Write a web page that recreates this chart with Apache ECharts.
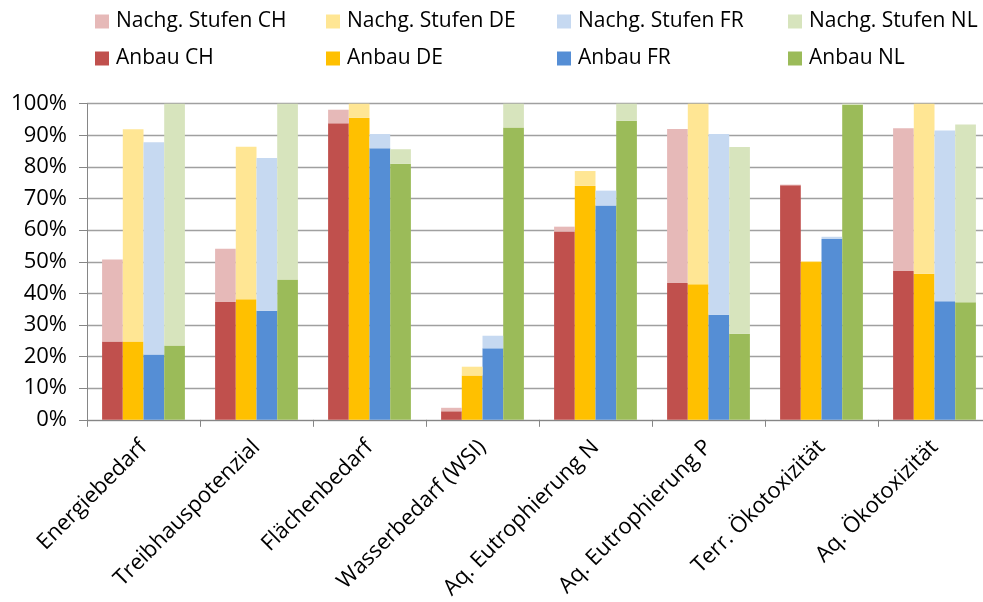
<!DOCTYPE html>
<html>
<head>
<meta charset="utf-8">
<script src="https://cdn.jsdelivr.net/npm/echarts@6/dist/echarts.min.js"></script>
<style>
  html, body { margin: 0; padding: 0; background: #fff; overflow: hidden; }
  /* a little wider than the window: the original plot is cut off at the right */
  #main { width: 991px; height: 602px; }
</style>
</head>
<body>
<div id="main"></div>
<script>
// categories (x axis)
var categories = ['Energiebedarf', 'Treibhauspotenzial', 'Flächenbedarf', 'Wasserbedarf (WSI)',
  'Aq. Eutrophierung N', 'Aq. Eutrophierung P', 'Terr. Ökotoxizität', 'Aq. Ökotoxizität']

// Anbau (lower part of each bar), in %
var anbauCH = [24.8, 37.3, 93.8, 2.7, 59.6, 43.3, 74.2, 47.1]
var anbauDE = [24.8, 38.1, 95.5, 14.0, 74.0, 42.9, 49.9, 46.2]
var anbauFR = [20.7, 34.5, 85.9, 22.6, 67.8, 33.2, 57.2, 37.5]
var anbauNL = [23.5, 44.4, 81.0, 92.5, 94.6, 27.2, 99.6, 37.2]

// Nachgelagerte Stufen (upper part), in %
var nachgCH = [25.9, 16.8, 4.3, 1.1, 1.5, 48.7, 0.2, 45.1]
var nachgDE = [67.1, 48.3, 4.5, 2.8, 4.7, 57.1, 0.3, 53.8]
var nachgFR = [67.1, 48.3, 4.5, 4.0, 4.7, 57.2, 0.7, 54.0]
var nachgNL = [76.5, 55.6, 4.6, 7.5, 5.4, 59.1, 0.4, 56.2]

var FONT = '"Open Sans", "DejaVu Sans", sans-serif'

var countries = [
  {key: 'CH', anbau: anbauCH, nachg: nachgCH, dark: '#c0504d', light: '#e6b9b8'},
  {key: 'DE', anbau: anbauDE, nachg: nachgDE, dark: '#ffc000', light: '#ffe694'},
  {key: 'FR', anbau: anbauFR, nachg: nachgFR, dark: '#558ed5', light: '#c6d9f1'},
  {key: 'NL', anbau: anbauNL, nachg: nachgNL, dark: '#9bbb59', light: '#d7e4bd'}
]

var series = []
countries.forEach(function (c) {
  series.push({
    name: 'Anbau ' + c.key,
    type: 'bar',
    stack: c.key,
    data: c.anbau,
    barWidth: 20.7,
    barGap: '0%',
    itemStyle: {color: c.dark}
  })
})
countries.forEach(function (c) {
  series.push({
    name: 'Nachg. Stufen ' + c.key,
    type: 'bar',
    stack: c.key,
    data: c.nachg,
    barWidth: 20.7,
    barGap: '0%',
    itemStyle: {color: c.light}
  })
})

var legendLeft = [95, 326, 557, 788]
var legends = countries.map(function (c, i) {
  return {
    orient: 'vertical',
    left: legendLeft[i],
    top: 11,
    padding: 0,
    itemWidth: 14,
    itemHeight: 14,
    itemGap: 16,
    icon: 'rect',
    selectedMode: false,
    data: ['Nachg. Stufen ' + c.key, 'Anbau ' + c.key],
    textStyle: {fontFamily: FONT, fontSize: 21, color: '#000', lineHeight: 21, padding: [0, 0, 0, 2]}
  }
})

var chart = echarts.init(document.getElementById('main'))
chart.setOption({
  animation: false,
  textStyle: {fontFamily: FONT},
  legend: legends,
  grid: {left: 87, right: 0, top: 103.7, bottom: 182, containLabel: false},
  xAxis: {
    type: 'category',
    data: categories,
    axisLine: {lineStyle: {color: '#868686', width: 1}},
    axisTick: {show: true, length: 7, lineStyle: {color: '#868686'}},
    axisLabel: {rotate: 45, margin: 24, fontSize: 22, color: '#000', fontFamily: FONT, interval: 0}
  },
  yAxis: {
    type: 'value',
    min: 0,
    max: 100,
    interval: 10,
    axisLine: {show: true, lineStyle: {color: '#868686', width: 1}},
    axisTick: {show: true, length: 8, lineStyle: {color: '#868686'}},
    splitLine: {lineStyle: {color: '#a0a0a0', width: 1.3}},
    axisLabel: {formatter: '{value}%', fontSize: 22, color: '#000', fontFamily: FONT, margin: 20}
  },
  series: series
})
</script>
</body>
</html>
